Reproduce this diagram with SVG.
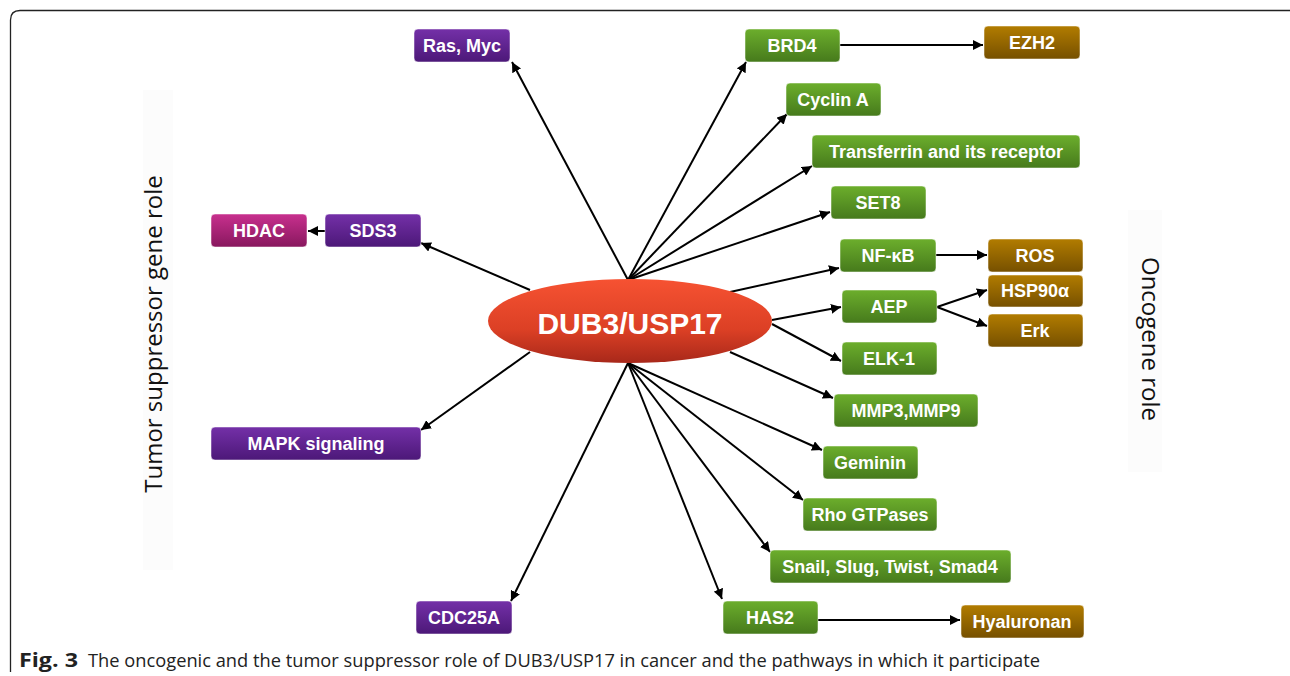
<svg xmlns="http://www.w3.org/2000/svg" width="1290" height="676" viewBox="0 0 1290 676">
<style>
.bg{fill:#ffffff}
.frame{fill:none;stroke:#222;stroke-width:1.3}
.n rect{stroke:#ffffff;stroke-opacity:0.5;stroke-width:1}
.lbl{font-family:"Liberation Sans",Arial,sans-serif;font-weight:bold;font-size:18px;fill:#ffffff;text-anchor:middle;dominant-baseline:central}
.pu{fill:url(#gPurple)}
.gr{fill:url(#gGreen)}
.br{fill:url(#gBrown)}
.mg{fill:url(#gMag)}
.c line{stroke:#000;stroke-width:2;marker-end:url(#ah)}
.side{font-family:"Open Sans","Liberation Sans",sans-serif;font-size:24px;fill:#111;text-anchor:middle}
.cap{font-family:"Open Sans","Liberation Sans",sans-serif;font-size:18px;fill:#222}
</style>
<defs>
<linearGradient id="gPurple" x1="0" y1="0" x2="0" y2="1"><stop offset="0" stop-color="#7430a8"/><stop offset="1" stop-color="#4c1878"/></linearGradient>
<linearGradient id="gGreen" x1="0" y1="0" x2="0" y2="1"><stop offset="0" stop-color="#6cae2c"/><stop offset="1" stop-color="#467a1c"/></linearGradient>
<linearGradient id="gBrown" x1="0" y1="0" x2="0" y2="1"><stop offset="0" stop-color="#b27c00"/><stop offset="1" stop-color="#765000"/></linearGradient>
<linearGradient id="gMag" x1="0" y1="0" x2="0" y2="1"><stop offset="0" stop-color="#c8308e"/><stop offset="1" stop-color="#88185e"/></linearGradient>
<linearGradient id="gRed" x1="0" y1="0" x2="0" y2="1"><stop offset="0" stop-color="#f65232"/><stop offset="0.6" stop-color="#dc4025"/><stop offset="1" stop-color="#a8281a"/></linearGradient>
<marker id="ah" viewBox="0 0 10 10" refX="10" refY="5" markerWidth="5" markerHeight="5" orient="auto" markerUnits="strokeWidth"><path d="M0,0 L10,5 L0,10 z" fill="#000"/></marker>
</defs>
<rect class="bg" x="0" y="0" width="1290" height="676"/>
<path class="frame" d="M10.5,672 L10.5,20 Q10.5,10.5 20,10.5 L1290,10.5"/>
<rect x="143" y="90" width="30" height="480" fill="#fcfcfc"/>
<rect x="1128" y="210" width="34" height="262" fill="#fcfcfc"/>
<text class="side" transform="translate(162,334) rotate(-90)">Tumor suppressor gene role</text>
<text class="side" transform="translate(1142,339) rotate(90)">Oncogene role</text>

<g id="connectors" class="c">
<line x1="628" y1="280" x2="512" y2="62"/>
<line x1="628" y1="280" x2="746" y2="62"/>
<line x1="628" y1="280" x2="787" y2="114"/>
<line x1="628" y1="280" x2="812" y2="166"/>
<line x1="628" y1="280" x2="830" y2="212"/>
<line x1="530" y1="290" x2="421" y2="243"/>
<line x1="325" y1="231" x2="308" y2="231"/>
<line x1="730" y1="292" x2="839" y2="268"/>
<line x1="772" y1="320" x2="841" y2="307"/>
<line x1="772" y1="324" x2="841" y2="361"/>
<line x1="730" y1="352" x2="833" y2="398"/>
<line x1="628" y1="363" x2="822" y2="450"/>
<line x1="628" y1="363" x2="803" y2="500"/>
<line x1="628" y1="363" x2="770" y2="552"/>
<line x1="628" y1="363" x2="722" y2="599"/>
<line x1="628" y1="363" x2="511" y2="601"/>
<line x1="530" y1="352" x2="421" y2="430"/>
<line x1="840" y1="45" x2="983" y2="45"/>
<line x1="936" y1="255" x2="987" y2="255"/>
<line x1="937" y1="307" x2="987" y2="290"/>
<line x1="937" y1="307" x2="987" y2="326"/>
<line x1="818" y1="620" x2="960" y2="620"/>
</g>

<g id="hub"><ellipse cx="630" cy="321" rx="142" ry="42" fill="url(#gRed)"/><text x="630" y="323" font-family="'Liberation Sans',Arial,sans-serif" font-weight="bold" font-size="30" fill="#fff" text-anchor="middle" dominant-baseline="central">DUB3/USP17</text></g>

<g id="rasmyc" class="n"><rect class="pu" x="414" y="29" width="96" height="33" rx="4"/><text class="lbl" x="462" y="46">Ras, Myc</text></g>
<g id="sds3" class="n"><rect class="pu" x="325" y="214" width="96" height="33" rx="4"/><text class="lbl" x="373" y="231">SDS3</text></g>
<g id="hdac" class="n"><rect class="mg" x="211" y="214" width="96" height="33" rx="4"/><text class="lbl" x="259" y="231">HDAC</text></g>
<g id="mapk" class="n"><rect class="pu" x="211" y="427" width="210" height="33" rx="4"/><text class="lbl" x="316" y="444">MAPK signaling</text></g>
<g id="cdc25a" class="n"><rect class="pu" x="416" y="601" width="96" height="33" rx="4"/><text class="lbl" x="464" y="618">CDC25A</text></g>

<g id="brd4" class="n"><rect class="gr" x="745" y="29" width="95" height="33" rx="4"/><text class="lbl" x="792" y="46">BRD4</text></g>
<g id="ezh2" class="n"><rect class="br" x="984" y="26" width="96" height="33" rx="4"/><text class="lbl" x="1032" y="43">EZH2</text></g>
<g id="cyclina" class="n"><rect class="gr" x="786" y="83" width="95" height="33" rx="4"/><text class="lbl" x="833" y="100">Cyclin A</text></g>
<g id="transferrin" class="n"><rect class="gr" x="812" y="135" width="268" height="33" rx="4"/><text class="lbl" x="946" y="152">Transferrin and its receptor</text></g>
<g id="set8" class="n"><rect class="gr" x="831" y="186" width="95" height="33" rx="4"/><text class="lbl" x="878" y="203">SET8</text></g>
<g id="nfkb" class="n"><rect class="gr" x="840" y="239" width="96" height="33" rx="4"/><text class="lbl" x="888" y="256">NF-κB</text></g>
<g id="ros" class="n"><rect class="br" x="988" y="239" width="95" height="33" rx="4"/><text class="lbl" x="1035" y="256">ROS</text></g>
<g id="hsp90" class="n"><rect class="br" x="988" y="275" width="95" height="32" rx="4"/><text class="lbl" x="1035" y="291">HSP90α</text></g>
<g id="aep" class="n"><rect class="gr" x="842" y="290" width="95" height="33" rx="4"/><text class="lbl" x="889" y="307">AEP</text></g>
<g id="erk" class="n"><rect class="br" x="988" y="314" width="95" height="33" rx="4"/><text class="lbl" x="1035" y="331">Erk</text></g>
<g id="elk1" class="n"><rect class="gr" x="842" y="342" width="95" height="33" rx="4"/><text class="lbl" x="889" y="359">ELK-1</text></g>
<g id="mmp" class="n"><rect class="gr" x="834" y="394" width="144" height="33" rx="4"/><text class="lbl" x="906" y="411">MMP3,MMP9</text></g>
<g id="geminin" class="n"><rect class="gr" x="823" y="446" width="95" height="33" rx="4"/><text class="lbl" x="870" y="463">Geminin</text></g>
<g id="rho" class="n"><rect class="gr" x="803" y="498" width="134" height="33" rx="4"/><text class="lbl" x="870" y="515">Rho GTPases</text></g>
<g id="snail" class="n"><rect class="gr" x="770" y="550" width="241" height="33" rx="4"/><text class="lbl" x="890" y="567">Snail, Slug, Twist, Smad4</text></g>
<g id="has2" class="n"><rect class="gr" x="723" y="601" width="95" height="33" rx="4"/><text class="lbl" x="770" y="618">HAS2</text></g>
<g id="hyaluronan" class="n"><rect class="br" x="961" y="605" width="123" height="33" rx="4"/><text class="lbl" x="1022" y="622">Hyaluronan</text></g>

<text class="cap" x="19" y="667"><tspan font-weight="bold" font-size="20" textLength="59" lengthAdjust="spacingAndGlyphs">Fig. 3</tspan><tspan x="88" textLength="952" lengthAdjust="spacingAndGlyphs">The oncogenic and the tumor suppressor role of DUB3/USP17 in cancer and the pathways in which it participate</tspan></text>
</svg>
